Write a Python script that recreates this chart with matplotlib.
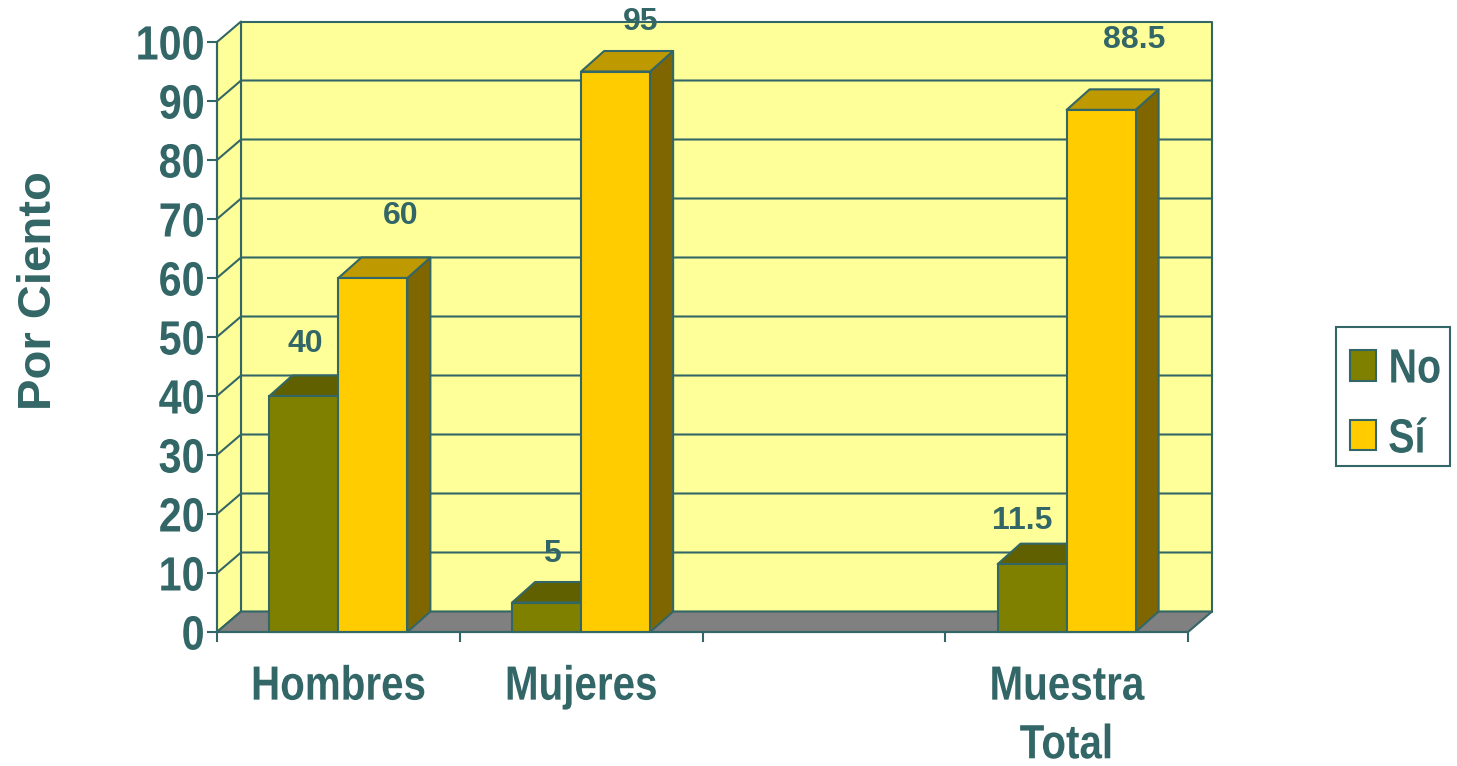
import matplotlib
matplotlib.use('Agg')
import matplotlib.pyplot as plt
import matplotlib.patheffects as pe
from matplotlib.patches import Polygon, Rectangle
from matplotlib.transforms import Affine2D

categories = ['Hombres', 'Mujeres', '', 'Muestra\nTotal']
no_values = [40, 5, None, 11.5]
si_values = [60, 95, None, 88.5]
no_labels = ['40', '5', '', '11.5']
si_labels = ['60', '95', '', '88.5']
y_ticks = [0, 10, 20, 30, 40, 50, 60, 70, 80, 90, 100]
legend_labels = ['No', 'Sí']

TEXT = '#336666'
OLIVE, OLIVE_TOP, OLIVE_SIDE = '#808000', '#606000', '#4d4d00'
GOLD, GOLD_TOP, GOLD_SIDE = '#FFCC00', '#BF9900', '#806600'
WALL = '#FFFF99'
FLOOR = '#808080'
FONT = ['Liberation Sans']
LW = 1.5
W, H = 1457, 766

# depth of the fake 3d box, in data units
DX = 24 / (971 / 4)
DY = 20.5 / 5.9
BAR_W = 69 / (971 / 4)
BAR_DX = 23 / (971 / 4)


# the reference text is squeezed sideways and no narrow font is installed
class Squeeze(pe.AbstractPathEffect):
    def __init__(self, anchor, sx):
        super().__init__()
        self.anchor = anchor
        self.sx = sx

    def draw_path(self, renderer, gc, tpath, affine, rgbFace=None):
        box = tpath.get_extents(affine)
        x0 = {'left': box.x0, 'center': (box.x0 + box.x1) / 2, 'right': box.x1}[self.anchor]
        squeeze = Affine2D().translate(-x0, 0).scale(self.sx, 1).translate(x0, 0)
        renderer.draw_path(gc, tpath, affine + squeeze, rgbFace)


fig = plt.figure(figsize=(W / 100, H / 100), dpi=100)
ax = fig.add_axes([217 / W, 134 / H, 971 / W, 590 / H])
ax.set_xlim(0, len(categories))
ax.set_ylim(0, 100)
ax.patch.set_visible(False)


def add_poly(points, color, z):
    ax.add_patch(Polygon(points, closed=True, facecolor=color, edgecolor=TEXT,
                         linewidth=LW, zorder=z, clip_on=False, joinstyle='round'))


n = len(categories)
top = y_ticks[-1]
# walls and floor
add_poly([(DX, DY), (n + DX, DY), (n + DX, top + DY), (DX, top + DY)], WALL, 1)
add_poly([(0, 0), (DX, DY), (DX, top + DY), (0, top)], WALL, 1)
add_poly([(0, 0), (n, 0), (n + DX, DY), (DX, DY)], FLOOR, 1)

# grid lines
for v in y_ticks[1:-1]:
    ax.plot([0, DX, n + DX], [v, v + DY, v + DY], color=TEXT, lw=LW, zorder=2, clip_on=False)


def draw_bar(x, v, front, top_c, side, z):
    add_poly([(x + BAR_W, 0), (x + BAR_W + BAR_DX, DY), (x + BAR_W + BAR_DX, v + DY), (x + BAR_W, v)], side, z)
    add_poly([(x, v), (x + BAR_W, v), (x + BAR_W + BAR_DX, v + DY), (x + BAR_DX, v + DY)], top_c, z)
    ax.bar(x, v, BAR_W, align='edge', color=front, edgecolor=TEXT, linewidth=LW, zorder=z, clip_on=False)


def value_label(s, x, v, off):
    ax.annotate(s, (x, v), xytext=(off[0] * 0.72, off[1] * 0.72), textcoords='offset points',
                ha='center', va='center', color=TEXT, fontsize=23, fontweight='bold',
                family=FONT, zorder=6, annotation_clip=False)


# px offsets of the hand placed labels, from the bar centre / top
no_off = [(1, 52), (5, 49), None, (-10, 43)]
si_off = [(28, 62), (25, 49), None, (33, 70)]
for i in range(n):
    if no_values[i] is None:
        continue
    c = i + 0.5
    draw_bar(c - BAR_W, no_values[i], OLIVE, OLIVE_TOP, OLIVE_SIDE, 3)
    draw_bar(c, si_values[i], GOLD, GOLD_TOP, GOLD_SIDE, 4)
    value_label(no_labels[i], c - BAR_W / 2, no_values[i], no_off[i])
    value_label(si_labels[i], c + BAR_W / 2, si_values[i], si_off[i])

# axes
for s in ['top', 'right']:
    ax.spines[s].set_visible(False)
for s in ['left', 'bottom']:
    ax.spines[s].set_color(TEXT)
    ax.spines[s].set_linewidth(LW)
    ax.spines[s].set_zorder(7)

ax.set_yticks(y_ticks)
ax.set_yticklabels([str(v) for v in y_ticks], family=FONT, fontsize=34.6,
                   fontweight='bold', color=TEXT)
ax.tick_params(axis='y', length=7.2, width=LW, color=TEXT, pad=1.5)
for t in ax.get_yticklabels():
    t.set_path_effects([Squeeze('right', 0.86)])

ax.set_xticks(range(n + 1))
ax.set_xticklabels([])
ax.tick_params(axis='x', which='major', length=7.2, width=LW, color=TEXT)
ax.set_xticks([i + 0.5 for i in range(n)], minor=True)
ax.set_xticklabels(categories, minor=True, family=FONT, fontsize=34.6,
                   fontweight='bold', color=TEXT, linespacing=1.39)
ax.tick_params(axis='x', which='minor', length=0, pad=23.5)
for t in ax.get_xticklabels(minor=True):
    t.set_path_effects([Squeeze('center', 0.84)])

ax.set_ylabel('Por Ciento', family=FONT, fontsize=34, fontweight='bold', color=TEXT)
ax.yaxis.set_label_coords((61 - 217) / 971, (632 - 291) / 590)


# legend, drawn by hand because the squeezed text would not fit a real legend box
def fig_rect(x0, y0, x1, y1, color):
    fig.add_artist(Rectangle((x0 / W, 1 - y1 / H), (x1 - x0) / W, (y1 - y0) / H, transform=fig.transFigure,
                             facecolor=color, edgecolor=TEXT, linewidth=LW))


fig_rect(1336, 327, 1450, 466, 'white')
fig_rect(1350, 350, 1376, 381, OLIVE)
fig_rect(1350, 420, 1376, 450, GOLD)
for label, y in zip(legend_labels, [370, 440]):
    t = fig.text(1388 / W, 1 - y / H, label, family=FONT, fontsize=34.6, fontweight='bold',
                 color=TEXT, ha='left', va='center')
    t.set_path_effects([Squeeze('left', 0.82)])

fig.savefig('out.png', dpi=100)
